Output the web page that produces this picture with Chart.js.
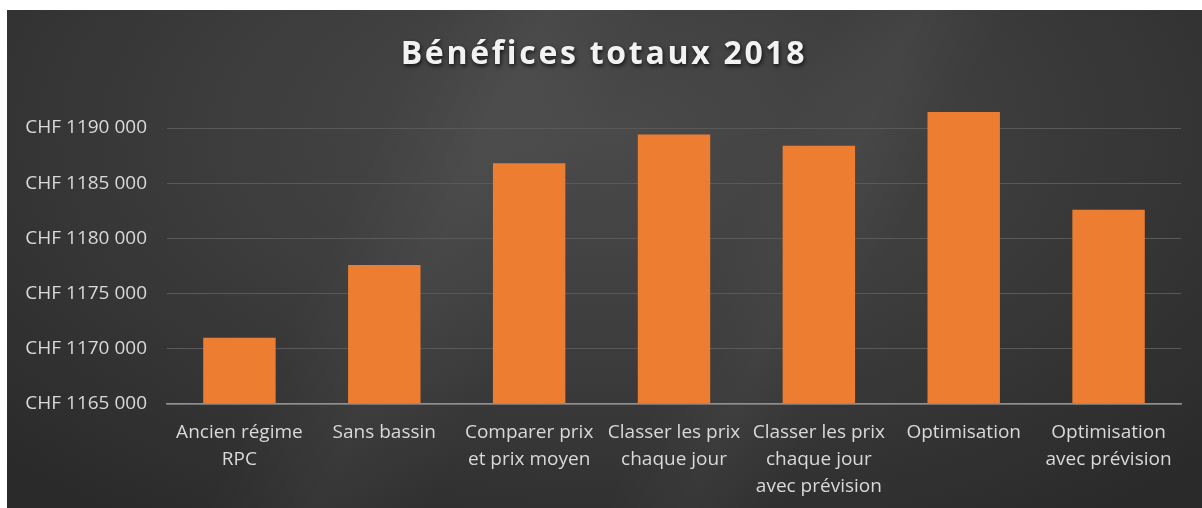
<!DOCTYPE html>
<html>
<head>
<meta charset="utf-8">
<script src="https://cdn.jsdelivr.net/npm/chart.js@4/dist/chart.umd.min.js"></script>
<style>
  html, body { margin: 0; padding: 0; background: #ffffff; }
  #wrap {
    position: absolute; left: 7px; top: 10px; width: 1195px; height: 498px;
    background:
      linear-gradient(115deg, rgba(255,255,255,0) 30%, rgba(255,255,255,0.035) 38%, rgba(255,255,255,0) 46%, rgba(255,255,255,0) 58%, rgba(255,255,255,0.03) 64%, rgba(255,255,255,0) 70%),
      radial-gradient(ellipse 70% 95% at 50% 25%, #4a4a4a 0%, #3d3d3d 45%, #2a2a2a 100%);
  }
  canvas { display: block; }
</style>
</head>
<body>
<div id="wrap"><canvas id="c" width="1195" height="498"></canvas></div>
<script>
const categories = [
  ["Ancien régime", "RPC"],
  ["Sans bassin"],
  ["Comparer prix", "et prix moyen"],
  ["Classer les prix", "chaque jour"],
  ["Classer les prix", "chaque jour", "avec prévision"],
  ["Optimisation"],
  ["Optimisation", "avec prévision"]
];
const profits = [1171000, 1177600, 1186800, 1189400, 1188400, 1191450, 1182600];
const yTickValues = [1165000, 1170000, 1175000, 1180000, 1185000, 1190000];
const yTickLabels = ["CHF 1165 000", "CHF 1170 000", "CHF 1175 000", "CHF 1180 000", "CHF 1185 000", "CHF 1190 000"];
const titleText = "Bénéfices totaux 2018";

const titleStyler = {
  id: 'titleStyler',
  beforeDraw(chart) {
    const tb = chart.titleBlock;
    if (tb && !tb._patched) {
      const orig = tb.draw.bind(tb);
      tb.draw = function () {
        const ctx = this.ctx;
        ctx.save();
        ctx.translate(10, 2);
        ctx.letterSpacing = '2.7px';
        ctx.shadowColor = 'rgba(0,0,0,0.75)';
        ctx.shadowBlur = 4;
        ctx.shadowOffsetX = 1;
        ctx.shadowOffsetY = 2;
        orig();
        ctx.restore();
      };
      tb._patched = true;
    }
  }
};

new Chart(document.getElementById('c'), {
  type: 'bar',
  data: {
    labels: categories,
    datasets: [{
      data: profits,
      backgroundColor: '#ED7D31',
      borderWidth: 0,
      categoryPercentage: 1.0,
      barPercentage: 0.5
    }]
  },
  options: {
    responsive: false,
    animation: false,
    layout: { padding: { left: 0, right: 21, top: 0, bottom: 0 } },
    plugins: {
      legend: { display: false },
      tooltip: { enabled: false },
      title: {
        display: true,
        text: titleText,
        color: '#f2f2f2',
        font: { family: '"Open Sans"', size: 32, weight: 'bold', lineHeight: 1.2 },
        padding: { top: 24, bottom: 28 }
      }
    },
    scales: {
      x: {
        grid: { display: false, drawTicks: false },
        border: { display: true, color: '#8f8f8f', width: 1.5, z: 1 },
        ticks: {
          color: '#d9d9d9',
          font: { family: '"Open Sans"', size: 19, lineHeight: 1.42 },
          padding: 15,
          maxRotation: 0,
          autoSkip: false,
          z: 1
        },
        afterFit(scale) { scale.height = 104; }
      },
      y: {
        min: 1165000,
        max: 1192500,
        grid: { color: '#595959', lineWidth: 1, drawTicks: false },
        border: { display: false },
        ticks: {
          stepSize: 5000,
          color: '#d9d9d9',
          font: { family: '"Open Sans"', size: 19 },
          padding: 20,
          z: 1,
          callback(value) {
            const i = yTickValues.indexOf(value);
            return i >= 0 ? yTickLabels[i] : '';
          }
        },
        afterBuildTicks(scale) {
          scale.ticks = yTickValues.map(v => ({ value: v }));
        },
        afterFit(scale) { scale.width = 160; }
      }
    }
  },
  plugins: [titleStyler]
});
</script>
</body>
</html>
